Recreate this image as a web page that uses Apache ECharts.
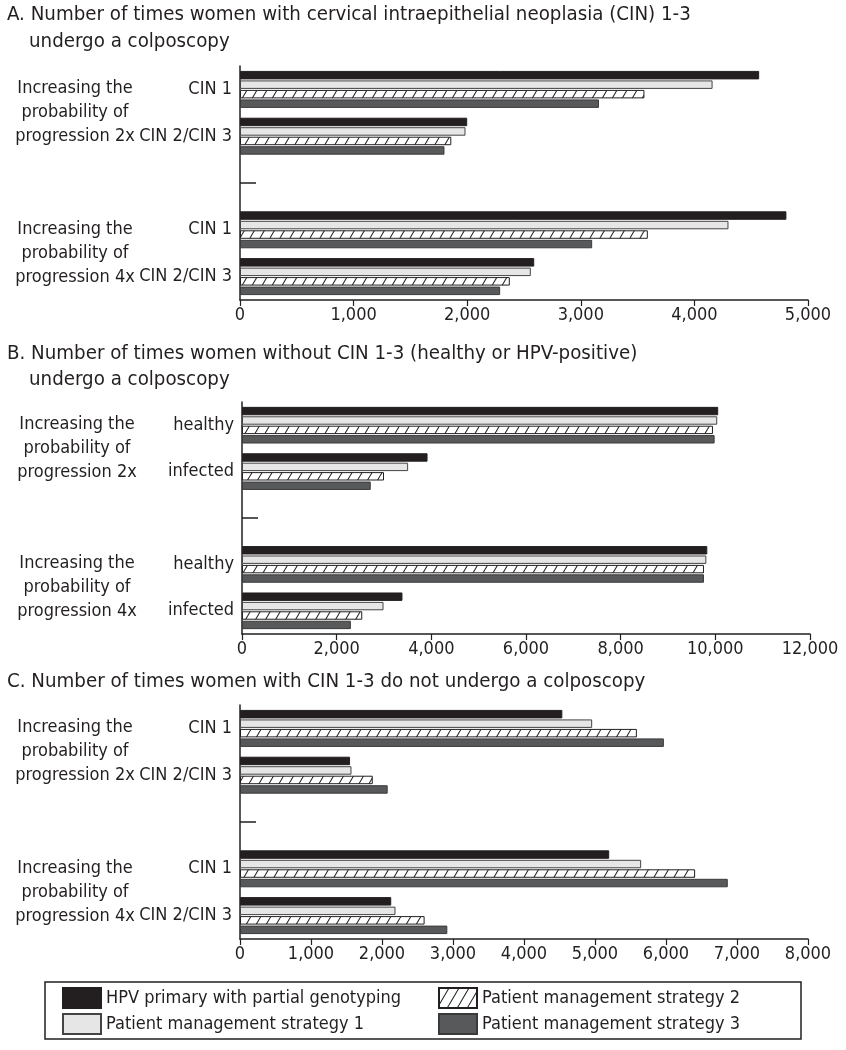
<!DOCTYPE html>
<html>
<head>
<meta charset="utf-8">
<script src="https://cdn.jsdelivr.net/npm/echarts@6/dist/echarts.min.js"></script>
<style>
html,body{margin:0;padding:0;background:#fff;}
#chart{width:846px;height:1050px;}
</style>
</head>
<body>
<div id="chart"></div>
<script>
// ---- data ----
const seriesNames = ['HPV primary with partial genotyping', 'Patient management strategy 1', 'Patient management strategy 2', 'Patient management strategy 3'];
const legendOrder = ['HPV primary with partial genotyping', 'Patient management strategy 2', 'Patient management strategy 1', 'Patient management strategy 3'];

const categoriesA = ['CIN 1', 'CIN 2/CIN 3', '', 'CIN 1', 'CIN 2/CIN 3'];
const categoriesB = ['healthy', 'infected', '', 'healthy', 'infected'];
const categoriesC = ['CIN 1', 'CIN 2/CIN 3', '', 'CIN 1', 'CIN 2/CIN 3'];
const groupLabels = ['Increasing the\nprobability of\nprogression 2x', 'Increasing the\nprobability of\nprogression 4x'];

const hpvA = [4570, 2000, null, 4810, 2590];
const s1A  = [4160, 1985, null, 4300, 2560];
const s2A  = [3560, 1860, null, 3590, 2375];
const s3A  = [3160, 1800, null, 3100, 2290];

const hpvB = [10060, 3920, null, 9830, 3390];
const s1B  = [10040, 3510, null, 9810, 2990];
const s2B  = [9950, 3000, null, 9760, 2540];
const s3B  = [9985, 2720, null, 9760, 2300];

const hpvC = [4540, 1550, null, 5200, 2130];
const s1C  = [4960, 1570, null, 5650, 2190];
const s2C  = [5590, 1870, null, 6410, 2600];
const s3C  = [5970, 2080, null, 6870, 2920];

const xMaxA = 5000, xStepA = 1000;
const xMaxB = 12000, xStepB = 2000;
const xMaxC = 8000, xStepC = 1000;

// ---- styles ----
const FONT = '"DejaVu Sans Condensed", "DejaVu Sans", sans-serif';
const INK = '#231f20';

function hatch() {
  const c = document.createElement('canvas');
  const w = 10, h = 17;
  c.width = w; c.height = h;
  const g = c.getContext('2d');
  g.fillStyle = '#ffffff';
  g.fillRect(0, 0, w, h);
  g.strokeStyle = '#2a2627';
  g.lineWidth = 1.1;
  g.beginPath();
  g.moveTo(0, h); g.lineTo(w, 0);
  g.moveTo(-w, h); g.lineTo(0, 0);
  g.moveTo(w, h); g.lineTo(2 * w, 0);
  g.stroke();
  return c;
}
const hatchPattern = { image: hatch(), repeat: 'repeat' };

const seriesStyles = [
  { color: INK, borderColor: INK },
  { color: '#e6e6e6', borderColor: '#444444' },
  { color: hatchPattern, borderColor: INK },
  { color: '#58595b', borderColor: '#3a3a3a' }
];

const grids = [
  { left: 240, right: 38, top: 66, height: 234 },
  { left: 242, right: 36, top: 402, height: 232 },
  { left: 240, right: 38, top: 705, height: 234 }
];

const panelCats = [categoriesA, categoriesB, categoriesC];
const panelData = [[hpvA, s1A, s2A, s3A], [hpvB, s1B, s2B, s3B], [hpvC, s1C, s2C, s3C]];
const xMax = [xMaxA, xMaxB, xMaxC];
const xStep = [xStepA, xStepB, xStepC];

const xAxes = [], yAxes = [], series = [];
for (let p = 0; p < 3; p++) {
  xAxes.push({
    type: 'value', gridIndex: p, min: 0, max: xMax[p], interval: xStep[p], position: 'bottom',
    axisLine: { show: true, onZero: false, lineStyle: { color: INK, width: 1.5 } },
    axisTick: { show: true, length: 6, lineStyle: { color: INK, width: 1.2 } },
    splitLine: { show: false },
    axisLabel: {
      fontFamily: FONT, fontSize: 18, color: INK, margin: 6,
      formatter: v => v.toLocaleString('en-US')
    }
  });
  yAxes.push({
    type: 'category', gridIndex: p, data: panelCats[p], inverse: true,
    axisLine: { show: true, onZero: false, lineStyle: { color: INK, width: 1.5 } },
    axisTick: {
      show: true, inside: true, length: 16, alignWithLabel: true,
      interval: (i) => i === 2,
      lineStyle: { color: INK, width: 1.5 }
    },
    axisLabel: { fontFamily: FONT, fontSize: 18, color: INK, margin: 8 }
  });
  yAxes.push({
    type: 'value', gridIndex: p, min: 0, max: 5, interval: 1, inverse: true, position: 'left',
    axisLine: { show: false, onZero: false }, axisTick: { show: false }, splitLine: { show: false },
    axisLabel: {
      fontFamily: FONT, fontSize: 18, color: INK, align: 'center', margin: 165, lineHeight: 24,
      formatter: v => (v === 1 ? groupLabels[0] : v === 4 ? groupLabels[1] : '')
    }
  });
  for (let s = 0; s < 4; s++) {
    series.push({
      type: 'bar', name: seriesNames[s], xAxisIndex: p, yAxisIndex: p * 2,
      data: panelData[p][s],
      barCategoryGap: '21%', barGap: '12%',
      itemStyle: Object.assign({ borderWidth: 1 }, seriesStyles[s]),
      emphasis: { disabled: true },
      animation: false
    });
  }
}

const titleStyle = { fontFamily: FONT, fontSize: 20.3, fontWeight: 'normal', color: INK };
const titles = [
  { text: 'A. Number of times women with cervical intraepithelial neoplasia (CIN) 1-3', left: 7, top: 5 },
  { text: 'undergo a colposcopy', left: 29, top: 32 },
  { text: 'B. Number of times women without CIN 1-3 (healthy or HPV-positive)', left: 7, top: 344 },
  { text: 'undergo a colposcopy', left: 29, top: 370 },
  { text: 'C. Number of times women with CIN 1-3 do not undergo a colposcopy', left: 7, top: 672 }
].map(t => Object.assign({ textStyle: titleStyle, padding: 0 }, t));

const col1 = ['HPV primary with partial genotyping', 'Patient management strategy 1'];

const chart = echarts.init(document.getElementById('chart'), null, { renderer: 'canvas' });
chart.setOption({
  animation: false,
  backgroundColor: '#ffffff',
  title: titles,
  legend: {
    data: legendOrder,
    left: 45, top: 982,
    orient: 'horizontal',
    width: 780,
    itemWidth: 38, itemHeight: 20, itemGap: 4,
    padding: [5, 9, 4, 17],
    borderColor: INK, borderWidth: 1.5,
    icon: 'rect',
    selectedMode: false,
    formatter: name => (col1.indexOf(name) >= 0 ? '{a|' + name + '}' : '{b|' + name + '}'),
    textStyle: {
      fontFamily: FONT, fontSize: 18, color: INK,
      rich: {
        a: { fontFamily: FONT, fontSize: 18, color: INK, width: 328, lineHeight: 24 },
        b: { fontFamily: FONT, fontSize: 18, color: INK, width: 310, lineHeight: 24 }
      }
    }
  },
  grid: grids,
  xAxis: xAxes,
  yAxis: yAxes,
  series: series
});
</script>
</body>
</html>
